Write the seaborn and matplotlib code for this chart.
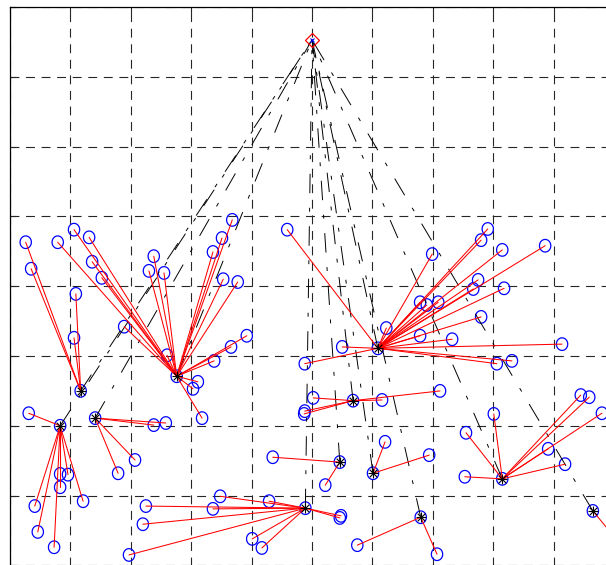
import numpy as np
import pandas as pd
import seaborn as sns
import matplotlib
matplotlib.use("Agg")
import matplotlib.pyplot as plt
from matplotlib.path import Path

# Estacao base (sink)
sink_x = 50.0
sink_y = 95.3

# Cluster heads
ch_x = [11.7, 8.3, 14.1, 27.6, 60.9, 56.8, 54.6, 60.1, 48.9, 68.0, 81.5, 96.5]
ch_y = [45.0, 40.0, 41.1, 47.1, 51.1, 43.6, 34.8, 33.2, 28.2, 26.9, 32.4, 27.8]

# Nos comuns e o cluster head a que pertencem (indice em ch_x / ch_y)
node_x = [2.6, 3.5, 10.9, 10.6,
          3.1, 8.3, 9.6, 8.3, 4.1, 4.6, 7.3, 12.1,
          23.8, 25.8, 20.7, 17.9,
          7.9, 10.6, 13.1, 13.6, 15.2, 18.9, 23.8, 23.0, 25.5, 26.0,
          36.8, 35.1, 33.6, 35.3, 37.7, 39.2, 36.6, 33.8, 31.1, 30.3, 31.8,
          45.9, 62.3, 55.0, 48.8, 79.1, 78.0, 81.5, 88.6, 69.9, 77.5, 76.7,
          81.8, 67.9, 69.0, 70.9, 78.0, 67.9, 73.2, 91.4, 80.6, 83.1,
          50.2, 61.6, 71.2, 48.8, 48.7,
          43.5, 52.2,
          62.1, 69.4,
          34.8, 33.6, 42.9, 54.8, 54.6, 40.1, 41.7, 22.5, 22.0, 19.7,
          57.5, 70.7,
          80.1, 75.5, 75.3, 89.1, 91.9, 94.5, 95.9, 98.0,
          100.7]
node_y = [66.3, 62.5, 58.9, 52.6,
          41.8, 33.1, 33.0, 31.2, 28.5, 24.8, 22.6, 29.2,
          40.1, 40.4, 35.1, 33.2,
          66.3, 68.1, 67.0, 63.5, 61.2, 54.2, 64.3, 62.2, 61.9, 50.1,
          69.5, 66.9, 64.9, 61.0, 60.6, 52.9, 51.3, 49.3, 46.3, 45.3, 41.1,
          68.1, 54.0, 51.3, 48.9, 68.2, 66.6, 65.2, 65.8, 64.6, 60.9, 59.6,
          59.7, 57.7, 57.3, 57.7, 55.6, 52.9, 52.4, 51.7, 48.9, 49.3,
          44.0, 43.7, 45.0, 42.1, 41.7,
          35.5, 31.5,
          37.7, 35.8,
          29.9, 28.1, 29.2, 27.1, 26.8, 23.8, 22.5, 28.5, 25.9, 21.5,
          22.9, 21.6,
          41.7, 39.0, 32.7, 36.7, 34.5, 44.4, 44.1, 41.8,
          23.4]
node_ch = [0] * 4 + [1] * 8 + [2] * 4 + [3] * 21 + [4] * 21 + [5] * 5 \
    + [6] * 2 + [7] * 2 + [8] * 10 + [9] * 2 + [10] * 8 + [11] * 1

df_nos = pd.DataFrame({"x": node_x + ch_x, "y": node_y + ch_y})
df_ch = pd.DataFrame({"x": ch_x, "y": ch_y})

sns.set_style("white")

fig = plt.figure(figsize=(6.06, 5.65), dpi=100)
# eixo maior que a figura: so o canto superior esquerdo aparece
ax = fig.add_axes([10 / 606, -140 / 565, 664.4 / 606, 698 / 565])

# marcador circular levemente achatado
t = np.linspace(0, 2 * np.pi, 60)
elipse = Path(np.column_stack([0.45 * np.cos(t), 0.5 * np.sin(t)]), closed=True)

# ligacoes cluster head -> sink
for x, y in zip(ch_x, ch_y):
    ax.plot([x, sink_x], [y, sink_y], color="black", lw=0.7,
            linestyle=(0, (20, 15, 4, 15)), zorder=3)

# ligacoes no -> cluster head
for x, y, c in zip(node_x, node_y, node_ch):
    ax.plot([x, ch_x[c]], [y, ch_y[c]], color="red", lw=0.75, zorder=4)

sns.scatterplot(data=df_nos, x="x", y="y", marker=elipse, s=82,
                facecolors="none", edgecolor="blue", linewidth=0.9,
                ax=ax, zorder=2, legend=False)
sns.scatterplot(data=df_ch, x="x", y="y", marker="+", s=55,
                color="black", linewidth=0.8, ax=ax, zorder=5, legend=False)
sns.scatterplot(data=df_ch, x="x", y="y", marker="x", s=30,
                color="black", linewidth=0.8, ax=ax, zorder=5, legend=False)

ax.plot(sink_x, sink_y, marker="D", ms=7.5, mfc="none", mec="red",
        mew=0.9, zorder=6)
ax.plot(sink_x, sink_y, marker="x", ms=3, color="blue", mew=0.8, zorder=7)

ax.set_xlim(0, 110)
ax.set_ylim(0, 100)
ax.set_xticks(np.arange(0, 111, 10))
ax.set_yticks(np.arange(0, 101, 10))
ax.set_xticklabels([])
ax.set_yticklabels([])
ax.set_xlabel("")
ax.set_ylabel("")
ax.tick_params(direction="in", length=4, width=0.8, top=True, right=True,
               left=True, bottom=True)
ax.grid(True, color="0.15", linestyle=(0, (8, 6)), linewidth=0.8)
for s in ax.spines.values():
    s.set_color("black")
    s.set_linewidth(0.9)

fig.savefig("out.png", dpi=100)
